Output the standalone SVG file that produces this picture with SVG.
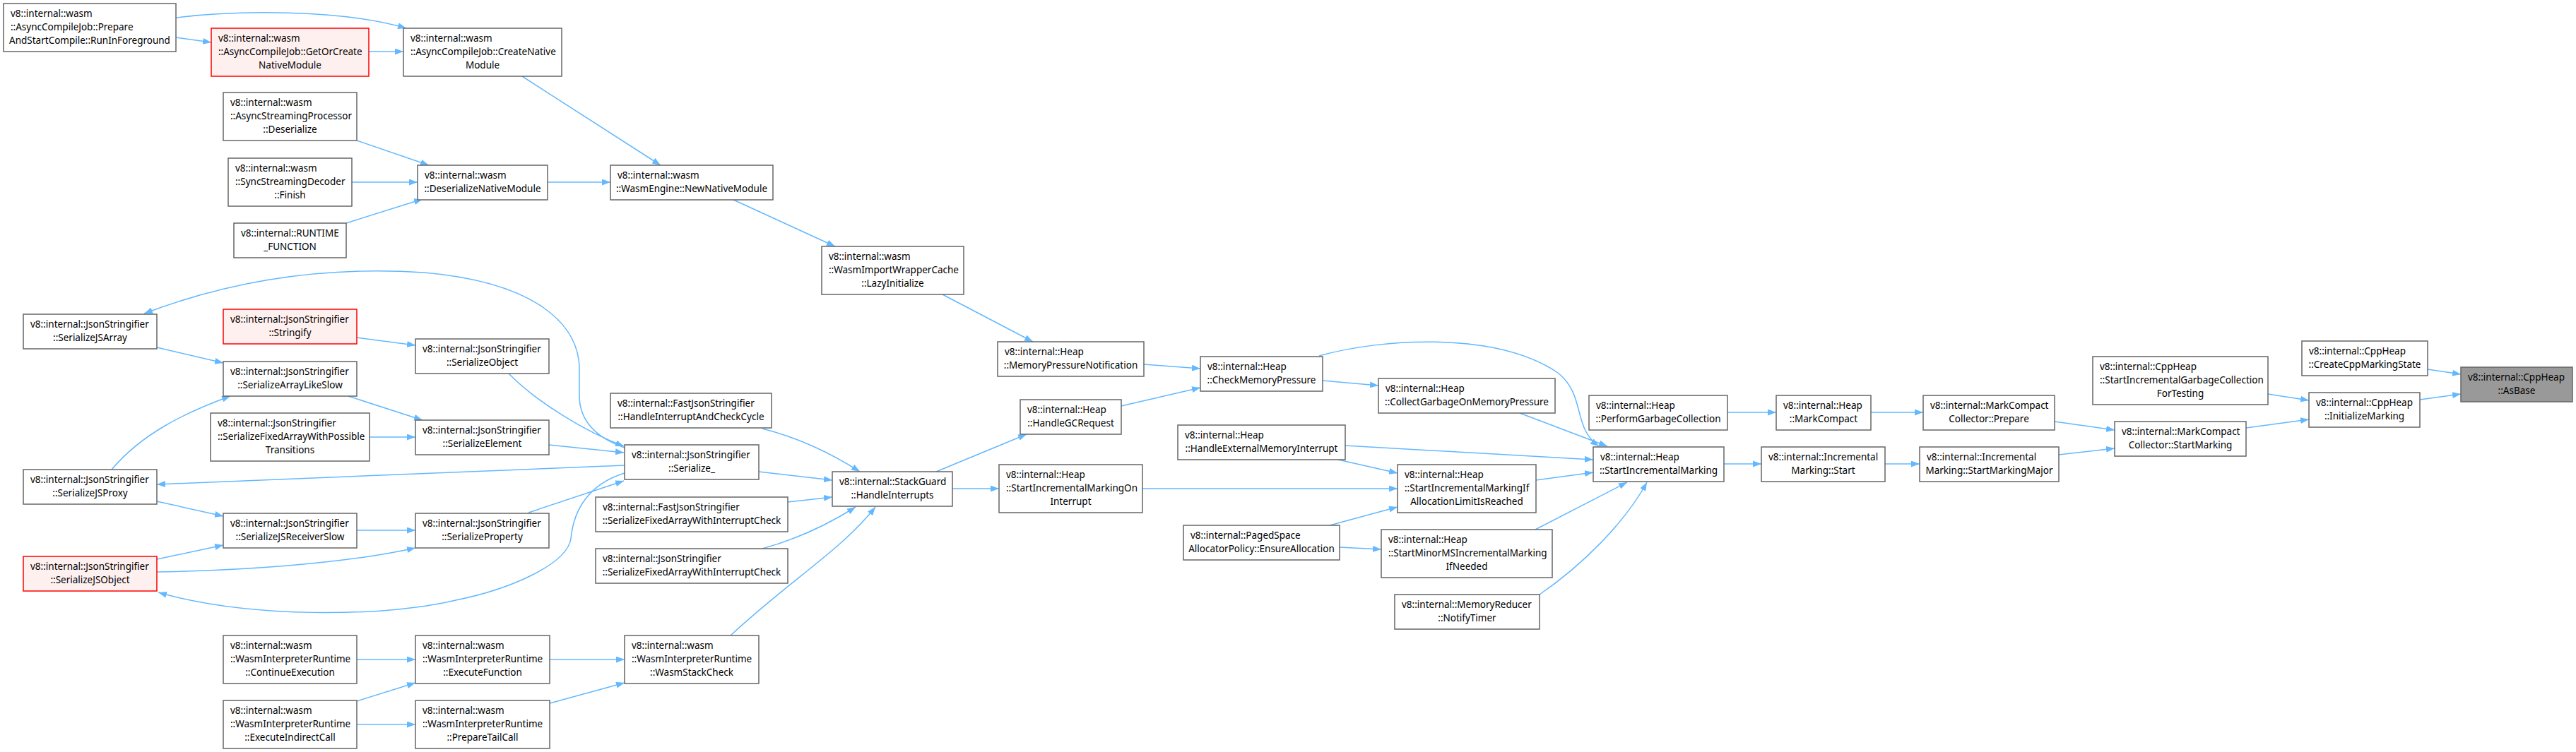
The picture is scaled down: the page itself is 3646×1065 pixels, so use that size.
<svg xmlns="http://www.w3.org/2000/svg" width="3646" height="1065" viewBox="0 0 3646 1065">
<style>
.nd rect{fill:#ffffff;stroke:#666666;stroke-width:1.5}
.red rect{fill:#fff0f0;stroke:#ff0000}
.cur rect{fill:#999999;stroke:#666666}
text{font-family:"Noto Sans","Liberation Sans",sans-serif;font-size:13.5px;fill:#000000}
.c{text-anchor:middle}
#edges path{fill:none;stroke:#63b8ff;stroke-width:1.5;marker-end:url(#ah)}
</style>
<defs>
<marker id="ah" viewBox="0 0 12 9" refX="12" refY="4.5" markerWidth="12" markerHeight="9" markerUnits="userSpaceOnUse" orient="auto">
<path d="M0,0 L12,4.5 L0,9 z" fill="#63b8ff"/>
</marker>
</defs>
<rect x="0" y="0" width="3646" height="1065" fill="#ffffff"/>
<g id="edges">
<path d="M249,53 L299,60"/>
<path d="M249,25 C330,15 480,12 575,40"/>
<path d="M522,73 L571,73"/>
<path d="M739,108 L935,234"/>
<path d="M505,199 L607,234"/>
<path d="M498,258 L591,258"/>
<path d="M490,316 L598,282"/>
<path d="M775,258 L864,258"/>
<path d="M1036,282 L1182,349"/>
<path d="M1334,417 L1462,484"/>
<path d="M1619,516 L1699,522"/>
<path d="M1587,575 L1699,549"/>
<path d="M1872,539 L1951,546"/>
<path d="M1867,504 C1960,478 2120,470 2205,528 C2245,560 2225,605 2263,632"/>
<path d="M2151,585 L2275,632"/>
<path d="M1904,631 L2255,651"/>
<path d="M1894,651 L1978,670"/>
<path d="M1617,692 L1978,692"/>
<path d="M1882,744 L1978,718"/>
<path d="M1896,775 L1955,778"/>
<path d="M2174,680 L2255,669"/>
<path d="M2173,750 Q2250,710 2303,683"/>
<path d="M2179,842 C2240,800 2300,740 2331,683"/>
<path d="M2445,584 L2514,584"/>
<path d="M2648,584 L2722,584"/>
<path d="M2440,657 L2493,657"/>
<path d="M2668,657 L2717,657"/>
<path d="M2908,597 L2993,609"/>
<path d="M2914,644 L2993,635"/>
<path d="M3179,606 L3268,594"/>
<path d="M3210,558 L3268,567"/>
<path d="M3425,566 L3483,558"/>
<path d="M3436,523 L3483,530"/>
<path d="M1325,668 L1453,615"/>
<path d="M1348,692 L1414,692"/>
<path d="M1079,607 Q1150,625 1217,668"/>
<path d="M1074,668 L1178,680"/>
<path d="M1115,711 L1178,704"/>
<path d="M1079,777 Q1148,758 1211,718"/>
<path d="M1034,900 C1120,820 1190,780 1239,718"/>
<path d="M778,934 L884,934"/>
<path d="M778,996 L884,967"/>
<path d="M505,934 L588,934"/>
<path d="M505,993 L588,967"/>
<path d="M505,1026 L588,1026"/>
<path d="M505,478 L588,489"/>
<path d="M720,529 C760,570 830,612 883,632"/>
<path d="M493,561 L598,595"/>
<path d="M523,619 L588,619"/>
<path d="M777,630 L883,641"/>
<path d="M222,492 L316,514"/>
<path d="M158,665 C200,615 260,585 326,561"/>
<path d="M222,710 L316,731"/>
<path d="M222,792 L316,772"/>
<path d="M222,810 C330,808 480,800 588,776"/>
<path d="M505,751 L588,751"/>
<path d="M748,726 L883,681"/>
<path d="M884,634 C850,622 820,600 820,560 L820,520 C818,460 760,400 600,386 C450,376 320,400 204,444"/>
<path d="M884,659 L222,686"/>
<path d="M884,670 C835,685 812,720 808,763 C802,800 720,835 645,850 C540,875 350,875 224,839"/>
</g>
<g id="n1" class="nd"><rect x="5" y="5" width="244" height="68"/><text x="15" y="23.5">v8::internal::wasm</text><text x="15" y="42.5">::AsyncCompileJob::Prepare</text><text x="127" y="61.5" class="c">AndStartCompile::RunInForeground</text></g>
<g id="n2" class="nd red"><rect x="299" y="40" width="223" height="68"/><text x="309" y="58.5">v8::internal::wasm</text><text x="309" y="77.5">::AsyncCompileJob::GetOrCreate</text><text x="410.5" y="96.5" class="c">NativeModule</text></g>
<g id="n3" class="nd"><rect x="571" y="40" width="224" height="68"/><text x="581" y="58.5">v8::internal::wasm</text><text x="581" y="77.5">::AsyncCompileJob::CreateNative</text><text x="683" y="96.5" class="c">Module</text></g>
<g id="n4" class="nd"><rect x="316" y="131" width="189" height="68"/><text x="326" y="149.5">v8::internal::wasm</text><text x="326" y="168.5">::AsyncStreamingProcessor</text><text x="410.5" y="187.5" class="c">::Deserialize</text></g>
<g id="n5" class="nd"><rect x="323" y="224" width="175" height="68"/><text x="333" y="242.5">v8::internal::wasm</text><text x="333" y="261.5">::SyncStreamingDecoder</text><text x="410.5" y="280.5" class="c">::Finish</text></g>
<g id="n6" class="nd"><rect x="331" y="316" width="159" height="49"/><text x="341" y="334.5">v8::internal::RUNTIME</text><text x="410.5" y="353.5" class="c">_FUNCTION</text></g>
<g id="n7" class="nd"><rect x="591" y="234" width="184" height="49"/><text x="601" y="252.5">v8::internal::wasm</text><text x="683" y="271.5" class="c">::DeserializeNativeModule</text></g>
<g id="n8" class="nd"><rect x="864" y="234" width="230" height="49"/><text x="874" y="252.5">v8::internal::wasm</text><text x="979" y="271.5" class="c">::WasmEngine::NewNativeModule</text></g>
<g id="n9" class="nd"><rect x="33" y="445" width="189" height="49"/><text x="43" y="463.5">v8::internal::JsonStringifier</text><text x="127.5" y="482.5" class="c">::SerializeJSArray</text></g>
<g id="n10" class="nd red"><rect x="316" y="438" width="189" height="49"/><text x="326" y="456.5">v8::internal::JsonStringifier</text><text x="410.5" y="475.5" class="c">::Stringify</text></g>
<g id="n11" class="nd"><rect x="588" y="480" width="189" height="49"/><text x="598" y="498.5">v8::internal::JsonStringifier</text><text x="682.5" y="517.5" class="c">::SerializeObject</text></g>
<g id="n12" class="nd"><rect x="316" y="512" width="189" height="49"/><text x="326" y="530.5">v8::internal::JsonStringifier</text><text x="410.5" y="549.5" class="c">::SerializeArrayLikeSlow</text></g>
<g id="n13" class="nd"><rect x="298" y="585" width="225" height="68"/><text x="308" y="603.5">v8::internal::JsonStringifier</text><text x="308" y="622.5">::SerializeFixedArrayWithPossible</text><text x="410.5" y="641.5" class="c">Transitions</text></g>
<g id="n14" class="nd"><rect x="588" y="595" width="189" height="49"/><text x="598" y="613.5">v8::internal::JsonStringifier</text><text x="682.5" y="632.5" class="c">::SerializeElement</text></g>
<g id="n15" class="nd"><rect x="33" y="665" width="189" height="49"/><text x="43" y="683.5">v8::internal::JsonStringifier</text><text x="127.5" y="702.5" class="c">::SerializeJSProxy</text></g>
<g id="n16" class="nd"><rect x="316" y="727" width="189" height="49"/><text x="326" y="745.5">v8::internal::JsonStringifier</text><text x="410.5" y="764.5" class="c">::SerializeJSReceiverSlow</text></g>
<g id="n17" class="nd"><rect x="588" y="727" width="189" height="49"/><text x="598" y="745.5">v8::internal::JsonStringifier</text><text x="682.5" y="764.5" class="c">::SerializeProperty</text></g>
<g id="n18" class="nd red"><rect x="33" y="788" width="189" height="49"/><text x="43" y="806.5">v8::internal::JsonStringifier</text><text x="127.5" y="825.5" class="c">::SerializeJSObject</text></g>
<g id="n19" class="nd"><rect x="316" y="900" width="189" height="68"/><text x="326" y="918.5">v8::internal::wasm</text><text x="326" y="937.5">::WasmInterpreterRuntime</text><text x="410.5" y="956.5" class="c">::ContinueExecution</text></g>
<g id="n20" class="nd"><rect x="588" y="900" width="190" height="68"/><text x="598" y="918.5">v8::internal::wasm</text><text x="598" y="937.5">::WasmInterpreterRuntime</text><text x="683" y="956.5" class="c">::ExecuteFunction</text></g>
<g id="n21" class="nd"><rect x="316" y="992" width="189" height="68"/><text x="326" y="1010.5">v8::internal::wasm</text><text x="326" y="1029.5">::WasmInterpreterRuntime</text><text x="410.5" y="1048.5" class="c">::ExecuteIndirectCall</text></g>
<g id="n22" class="nd"><rect x="588" y="992" width="190" height="68"/><text x="598" y="1010.5">v8::internal::wasm</text><text x="598" y="1029.5">::WasmInterpreterRuntime</text><text x="683" y="1048.5" class="c">::PrepareTailCall</text></g>
<g id="n23" class="nd"><rect x="864" y="557" width="228" height="49"/><text x="874" y="575.5">v8::internal::FastJsonStringifier</text><text x="978" y="594.5" class="c">::HandleInterruptAndCheckCycle</text></g>
<g id="n24" class="nd"><rect x="884" y="630" width="190" height="49"/><text x="894" y="648.5">v8::internal::JsonStringifier</text><text x="979" y="667.5" class="c">::Serialize_</text></g>
<g id="n25" class="nd"><rect x="843" y="704" width="272" height="49"/><text x="853" y="722.5">v8::internal::FastJsonStringifier</text><text x="979" y="741.5" class="c">::SerializeFixedArrayWithInterruptCheck</text></g>
<g id="n26" class="nd"><rect x="843" y="777" width="272" height="49"/><text x="853" y="795.5">v8::internal::JsonStringifier</text><text x="979" y="814.5" class="c">::SerializeFixedArrayWithInterruptCheck</text></g>
<g id="n27" class="nd"><rect x="884" y="900" width="190" height="68"/><text x="894" y="918.5">v8::internal::wasm</text><text x="894" y="937.5">::WasmInterpreterRuntime</text><text x="979" y="956.5" class="c">::WasmStackCheck</text></g>
<g id="n28" class="nd"><rect x="1178" y="668" width="170" height="49"/><text x="1188" y="686.5">v8::internal::StackGuard</text><text x="1263" y="705.5" class="c">::HandleInterrupts</text></g>
<g id="n29" class="nd"><rect x="1444" y="566" width="143" height="49"/><text x="1454" y="584.5">v8::internal::Heap</text><text x="1515.5" y="603.5" class="c">::HandleGCRequest</text></g>
<g id="n30" class="nd"><rect x="1414" y="658" width="203" height="68"/><text x="1424" y="676.5">v8::internal::Heap</text><text x="1424" y="695.5">::StartIncrementalMarkingOn</text><text x="1515.5" y="714.5" class="c">Interrupt</text></g>
<g id="n31" class="nd"><rect x="1412" y="484" width="207" height="49"/><text x="1422" y="502.5">v8::internal::Heap</text><text x="1515.5" y="521.5" class="c">::MemoryPressureNotification</text></g>
<g id="n32" class="nd"><rect x="1163" y="349" width="201" height="68"/><text x="1173" y="367.5">v8::internal::wasm</text><text x="1173" y="386.5">::WasmImportWrapperCache</text><text x="1263.5" y="405.5" class="c">::LazyInitialize</text></g>
<g id="n33" class="nd"><rect x="1699" y="505" width="173" height="49"/><text x="1709" y="523.5">v8::internal::Heap</text><text x="1785.5" y="542.5" class="c">::CheckMemoryPressure</text></g>
<g id="n34" class="nd"><rect x="1667" y="602" width="237" height="49"/><text x="1677" y="620.5">v8::internal::Heap</text><text x="1785.5" y="639.5" class="c">::HandleExternalMemoryInterrupt</text></g>
<g id="n35" class="nd"><rect x="1675" y="744" width="221" height="49"/><text x="1685" y="762.5">v8::internal::PagedSpace</text><text x="1785.5" y="781.5" class="c">AllocatorPolicy::EnsureAllocation</text></g>
<g id="n36" class="nd"><rect x="1951" y="536" width="250" height="49"/><text x="1961" y="554.5">v8::internal::Heap</text><text x="2076" y="573.5" class="c">::CollectGarbageOnMemoryPressure</text></g>
<g id="n37" class="nd"><rect x="2249" y="560" width="196" height="49"/><text x="2259" y="578.5">v8::internal::Heap</text><text x="2347" y="597.5" class="c">::PerformGarbageCollection</text></g>
<g id="n38" class="nd"><rect x="2514" y="560" width="134" height="49"/><text x="2524" y="578.5">v8::internal::Heap</text><text x="2581" y="597.5" class="c">::MarkCompact</text></g>
<g id="n39" class="nd"><rect x="2255" y="633" width="185" height="49"/><text x="2265" y="651.5">v8::internal::Heap</text><text x="2347.5" y="670.5" class="c">::StartIncrementalMarking</text></g>
<g id="n40" class="nd"><rect x="2493" y="633" width="175" height="49"/><text x="2503" y="651.5">v8::internal::Incremental</text><text x="2580.5" y="670.5" class="c">Marking::Start</text></g>
<g id="n41" class="nd"><rect x="1978" y="658" width="196" height="68"/><text x="1988" y="676.5">v8::internal::Heap</text><text x="1988" y="695.5">::StartIncrementalMarkingIf</text><text x="2076" y="714.5" class="c">AllocationLimitIsReached</text></g>
<g id="n42" class="nd"><rect x="1955" y="750" width="242" height="68"/><text x="1965" y="768.5">v8::internal::Heap</text><text x="1965" y="787.5">::StartMinorMSIncrementalMarking</text><text x="2076" y="806.5" class="c">IfNeeded</text></g>
<g id="n43" class="nd"><rect x="1974" y="842" width="205" height="49"/><text x="1984" y="860.5">v8::internal::MemoryReducer</text><text x="2076.5" y="879.5" class="c">::NotifyTimer</text></g>
<g id="n44" class="nd"><rect x="2722" y="560" width="186" height="49"/><text x="2732" y="578.5">v8::internal::MarkCompact</text><text x="2815" y="597.5" class="c">Collector::Prepare</text></g>
<g id="n45" class="nd"><rect x="2717" y="633" width="197" height="49"/><text x="2727" y="651.5">v8::internal::Incremental</text><text x="2815.5" y="670.5" class="c">Marking::StartMarkingMajor</text></g>
<g id="n46" class="nd"><rect x="2993" y="597" width="186" height="49"/><text x="3003" y="615.5">v8::internal::MarkCompact</text><text x="3086" y="634.5" class="c">Collector::StartMarking</text></g>
<g id="n47" class="nd"><rect x="2962" y="505" width="248" height="68"/><text x="2972" y="523.5">v8::internal::CppHeap</text><text x="2972" y="542.5">::StartIncrementalGarbageCollection</text><text x="3086" y="561.5" class="c">ForTesting</text></g>
<g id="n48" class="nd"><rect x="3258" y="483" width="178" height="49"/><text x="3268" y="501.5">v8::internal::CppHeap</text><text x="3347" y="520.5" class="c">::CreateCppMarkingState</text></g>
<g id="n49" class="nd"><rect x="3268" y="556" width="157" height="49"/><text x="3278" y="574.5">v8::internal::CppHeap</text><text x="3346.5" y="593.5" class="c">::InitializeMarking</text></g>
<g id="n50" class="nd cur"><rect x="3483" y="520" width="158" height="49"/><text x="3493" y="538.5">v8::internal::CppHeap</text><text x="3562" y="557.5" class="c">::AsBase</text></g>
</svg>
